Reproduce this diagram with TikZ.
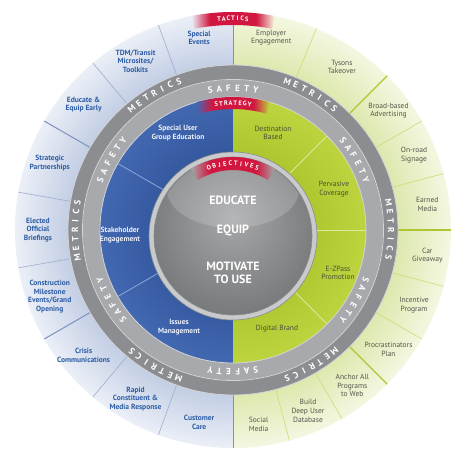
\documentclass[tikz,border=0pt]{standalone}
\usepackage{fontspec}
\setmainfont{PT Sans}

% colours of the wheel
\definecolor{tacblueout}{HTML}{EBEFF7}
\definecolor{tacbluein}{HTML}{C3CEE4}
\definecolor{tacgreenout}{HTML}{F4F7E1}
\definecolor{tacgreenin}{HTML}{DDE8AE}
\definecolor{bluediv}{HTML}{9DACCF}
\definecolor{bluedivdark}{HTML}{7E91BE}
\definecolor{greendiv}{HTML}{CCDC72}
\definecolor{greendivdark}{HTML}{AFC632}
\definecolor{metricsgray}{HTML}{8C8D91}
\definecolor{safetygray}{HTML}{A8A9AD}
\definecolor{ringline}{HTML}{D3D4D6}
\definecolor{stratblue}{HTML}{4268B1}
\definecolor{stratbluedark}{HTML}{35599F}
\definecolor{stratgreen}{HTML}{BDD43E}
\definecolor{stratgreendark}{HTML}{AEC72F}
\definecolor{stratbluediv}{HTML}{8EA6D6}
\definecolor{stratgreendiv}{HTML}{DCE89C}
\definecolor{tabred}{HTML}{D1173F}
\definecolor{labelblue}{HTML}{2C5DA6}
\definecolor{labelgray}{HTML}{55564B}
\definecolor{labelwhite}{HTML}{EEF2FA}
\definecolor{labelolive}{HTML}{4B4D3C}
\definecolor{objrim}{HTML}{C9CACC}
\definecolor{objedge}{HTML}{8A8B8D}
\definecolor{objlight}{HTML}{A6A7A9}
\definecolor{objdark}{HTML}{737476}

% radial shadings (25bp = edge of the shaded circle)
\pgfdeclareradialshading{tacticsblue}{\pgfpoint{0bp}{0bp}}{color(0bp)=(tacbluein); color(18.9bp)=(tacbluein); color(25bp)=(tacblueout); color(50bp)=(tacblueout)}
\pgfdeclareradialshading{tacticsgreen}{\pgfpoint{0bp}{0bp}}{color(0bp)=(tacgreenin); color(18.9bp)=(tacgreenin); color(25bp)=(tacgreenout); color(50bp)=(tacgreenout)}
\pgfdeclareradialshading{strategyblue}{\pgfpoint{0bp}{0bp}}{color(0bp)=(stratbluedark); color(15bp)=(stratbluedark); color(25bp)=(stratblue); color(50bp)=(stratblue)}
\pgfdeclareradialshading{strategygreen}{\pgfpoint{0bp}{0bp}}{color(0bp)=(stratgreendark); color(15bp)=(stratgreendark); color(25bp)=(stratgreen); color(50bp)=(stratgreen)}
\pgfdeclareradialshading{objsphere}{\pgfpoint{0bp}{6bp}}{color(0bp)=(objlight); color(31bp)=(objdark); color(50bp)=(objdark)}

% red tabs that fade into the ring below them
\pgfdeclarehorizontalshading{tacticstab}{100bp}{color(0bp)=(tacblueout); color(25bp)=(tacblueout); color(36bp)=(tabred); color(64bp)=(tabred); color(75bp)=(tacgreenout); color(100bp)=(tacgreenout)}
\pgfdeclarehorizontalshading{strategytab}{100bp}{color(0bp)=(stratblue); color(25bp)=(stratblue); color(36bp)=(tabred); color(64bp)=(tabred); color(75bp)=(stratgreen); color(100bp)=(stratgreen)}
\pgfdeclarehorizontalshading{objectivestab}{100bp}{color(0bp)=(objlight); color(25bp)=(objlight); color(36bp)=(tabred); color(64bp)=(tabred); color(75bp)=(objlight); color(100bp)=(objlight)}

% letters set one by one along a circle, clockwise
% #1 radius, #2 middle angle, #3 step, #4 style, #5 name, #6 letters
\newcommand{\arcletters}[6]{%
  \foreach \ch [count=\k] in {#6} {\xdef\arcn{\k}}%
  \foreach \ch [count=\k] in {#6} {%
    \pgfmathsetmacro{\arcang}{#2-(\k-(\arcn+1)/2)*#3}%
    \pgfmathsetmacro{\arcrot}{\arcang-90}%
    \node[#4, rotate=\arcrot] (#5-\k) at (\arcang:#1) {\ch};
  }%
}

\begin{document}
\begin{tikzpicture}[x=1pt, y=1pt,
    ringletter/.style={text=white, font=\bfseries\fontsize{9}{10}\selectfont, inner sep=0pt},
    tabletter/.style={text=white, font=\bfseries\fontsize{6.5}{7}\selectfont, inner sep=0pt},
    tacblue/.style={text=labelblue, font=\bfseries\fontsize{7.5}{8.7}\selectfont, align=center, inner sep=0pt},
    tacgreen/.style={text=labelgray, font=\fontsize{7.5}{8.7}\selectfont, align=center, inner sep=0pt},
    stratlblue/.style={text=labelwhite, font=\bfseries\fontsize{7.5}{8.7}\selectfont, align=center, inner sep=0pt},
    stratlgreen/.style={text=labelolive, font=\fontsize{7.5}{8.7}\selectfont, align=center, inner sep=0pt},
    objtext/.style={text=white, font=\bfseries\fontsize{12}{13}\selectfont, align=center, inner sep=0pt}]

  % Page
  \useasboundingbox (-233,-228) rectangle (237,230);
  \fill[white] (-233,-228) rectangle (237,230);

  % Tactics ring: blue half and green half
  \begin{scope}
    \clip (-220,-220) rectangle (0,220);
    \shade[shading=tacticsblue] (0,0) circle (218);
  \end{scope}
  \begin{scope}
    \clip (0,-220) rectangle (220,220);
    \shade[shading=tacticsgreen] (0,0) circle (218);
  \end{scope}

  % Tactics dividers
  \foreach \a in {110,130,170,190,230,250}
    \draw[bluediv, line width=0.6] (\a:165) -- (\a:218);
  \foreach \a in {90,150,210,270}
    \draw[bluedivdark, line width=1] (\a:165) -- (\a:218);
  \foreach \a in {67.5,30,15,-15,-30,-60,-75}
    \draw[greendiv, line width=0.6] (\a:165) -- (\a:218);
  \foreach \a in {45,0,-45}
    \draw[greendivdark, line width=1.2] (\a:165) -- (\a:218);

  % Metrics / safety ring
  \fill[metricsgray] (0,0) circle (165);
  \draw[ringline, line width=0.8] (0,0) circle (165);
  \fill[safetygray] (0,0) circle (150);
  \draw[ringline, line width=0.8] (0,0) circle (150.5);

  % Strategy ring
  \begin{scope}
    \clip (-140,-140) rectangle (0,140);
    \shade[shading=strategyblue] (0,0) circle (133);
  \end{scope}
  \begin{scope}
    \clip (0,-140) rectangle (140,140);
    \shade[shading=strategygreen] (0,0) circle (133);
  \end{scope}
  \draw[ringline, line width=0.8] (0,0) circle (133);
  \foreach \a in {150,210}
    \draw[stratbluediv, line width=0.8] (\a:133) -- (\a:80);
  \foreach \a in {45,0,-45}
    \draw[stratgreendiv, line width=0.8] (\a:133) -- (\a:80);

  % Objectives circle
  \coordinate (O) at (0,-6);
  \fill[objrim] (O) circle (84);
  \draw[objedge, line width=0.6] (O) circle (84);
  \shade[shading=objsphere] (O) circle (79);
  \draw[objedge, line width=0.6] (O) circle (79);
  \begin{scope}
    \clip (O) circle (78);
    \fill[white, opacity=0.17] (0,40) ellipse (66 and 38);
  \end{scope}

  % Red tabs
  \shade[shading=tacticstab] (79:205) arc[start angle=79, end angle=101, radius=205]
    -- (101:218) arc[start angle=101, end angle=79, radius=218] -- cycle;
  \shade[shading=strategytab] (74:121) arc[start angle=74, end angle=106, radius=121]
    -- (106:133) arc[start angle=106, end angle=74, radius=133] -- cycle;
  \begin{scope}[shift={(O)}]
    \shade[shading=objectivestab] (58:66) arc[start angle=58, end angle=122, radius=66]
      -- (122:79) arc[start angle=122, end angle=58, radius=79] -- cycle;
    \arcletters{72.5}{90}{4.3}{tabletter}{obj}{O,B,J,E,C,T,I,V,E,S}
  \end{scope}
  \arcletters{211.5}{90}{1.25}{tabletter}{tac}{T,A,C,T,I,C,S}
  \arcletters{127}{90}{2.15}{tabletter}{str}{S,T,R,A,T,E,G,Y}

  % Safety and metrics words round the grey ring
  \foreach \m in {90,30,-30,-90,-150,150}
    {\arcletters{142}{\m}{3.7}{ringletter}{saf\m}{S,A,F,E,T,Y}}
  \foreach \m in {60,0,-60,-120,180,120}
    {\arcletters{158}{\m}{3.3}{ringletter}{met\m}{M,E,T,R,I,C,S}}

  % Tactics (blue half)
  \foreach \a/\t [count=\i] in {100/{Special\\Events},
      120/{TDM/Transit\\Microsites/\\Toolkits},
      140/{Educate \&\\Equip Early},
      160/{Strategic\\Partnerships},
      180/{Elected\\Official\\Briefings},
      200/{Construction\\Milestone\\Events/Grand\\Opening},
      220/{Crisis\\Communications},
      240/{Rapid\\Constituent \&\\Media Response},
      260/{Customer\\Care}}
    \node[tacblue] (tb\i) at (\a:195) {\t};

  % Tactics (green half)
  \foreach \a/\t [count=\i] in {78.75/{Employer\\Engagement},
      56.25/{Tysons\\Takeover},
      37.5/{Broad-based\\Advertising},
      22.5/{On-road\\Signage},
      7.5/{Earned\\Media},
      -7.5/{Car\\Giveaway},
      -22.5/{Incentive\\Program},
      -37.5/{Procrastinators\\Plan},
      -52.5/{Anchor All\\Programs\\to Web},
      -67.5/{Build\\Deep User\\Database},
      -82.5/{Social\\Media}}
    \node[tacgreen] (tg\i) at (\a:196) {\t};

  % Strategy labels
  \node[stratlblue] (special) at (-55,97) {Special User\\Group Education};
  \node[stratlblue] (stake) at (-113,-5) {Stakeholder\\Engagement};
  \node[stratlblue] (issues) at (-54,-97) {Issues\\Management};
  \node[stratlgreen] (dest) at (40,97) {Destination\\Based};
  \node[stratlgreen] (perv) at (101,41) {Pervasive\\Coverage};
  \node[stratlgreen] (ezpass) at (105,-43) {E-ZPass\\Promotion};
  \node[stratlgreen] (digital) at (44,-99) {Digital Brand};

  % Objectives
  \node[objtext] (educate) at (0,30) {EDUCATE};
  \node[objtext] (equip) at (0,-1) {EQUIP};
  \node[objtext] (motivate) at (0,-42.5) {MOTIVATE\\TO USE};
\end{tikzpicture}
\end{document}
